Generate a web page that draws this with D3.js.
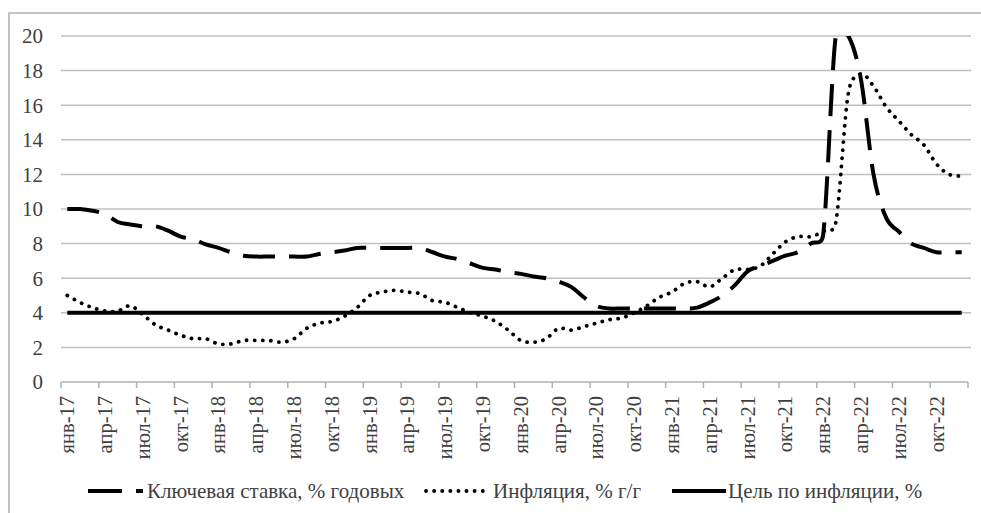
<!DOCTYPE html>
<html>
<head>
<meta charset="utf-8">
<script src="https://cdn.jsdelivr.net/npm/d3@7"></script>
<style>
  body { margin: 0; background: #fff; }
  svg { display: block; }
</style>
</head>
<body>
<div id="chart"></div>
<script>
// Ключевая ставка vs инфляция, помесячно янв-17 .. дек-22

var monthNames = ["янв", "фев", "мар", "апр", "май", "июн", "июл", "авг", "сен", "окт", "ноя", "дек"];
var years = ["17", "18", "19", "20", "21", "22"];

// key rate, % annual (monthly)
var keyRate = [
  10, 10, 9.9, 9.7, 9.25, 9.1, 9, 9, 8.75, 8.4, 8.25, 7.95,
  7.75, 7.5, 7.3, 7.25, 7.25, 7.25, 7.25, 7.25, 7.4, 7.5, 7.6, 7.75,
  7.75, 7.75, 7.75, 7.75, 7.75, 7.5, 7.25, 7.1, 6.85, 6.6, 6.5, 6.35,
  6.25, 6.1, 6, 5.8, 5.5, 4.9, 4.4, 4.25, 4.25, 4.25, 4.25, 4.25,
  4.25, 4.25, 4.3, 4.6, 5, 5.6, 6.4, 6.7, 7, 7.3, 7.5, 8,
  8.5, 20, 20, 17.5, 12, 9.5, 8.7, 8, 7.75, 7.5, 7.5, 7.5
];

// inflation, % y/y
var inflation = [
  5.0, 4.6, 4.3, 4.1, 4.1, 4.4, 3.9, 3.3, 3.0, 2.7, 2.5, 2.5,
  2.2, 2.2, 2.4, 2.4, 2.4, 2.3, 2.5, 3.1, 3.4, 3.5, 3.8, 4.3,
  5.0, 5.2, 5.3, 5.2, 5.1, 4.7, 4.6, 4.3, 4.0, 3.8, 3.5, 3.0,
  2.4, 2.3, 2.5, 3.1, 3.0, 3.2, 3.4, 3.6, 3.7, 4.0, 4.4, 4.9,
  5.2, 5.7, 5.8, 5.5, 6.0, 6.5, 6.5, 6.7, 7.4, 8.1, 8.4, 8.4,
  8.7, 9.2, 16.7, 17.8, 17.1, 15.9, 15.1, 14.3, 13.7, 12.6, 12.0, 11.9
];

var target = 4;

var yTicks = [0, 2, 4, 6, 8, 10, 12, 14, 16, 18, 20];

var seriesNames = ["Ключевая ставка, % годовых", "Инфляция, % г/г", "Цель по инфляции, %"];

// categories
var months = [];
years.forEach(y => monthNames.forEach(m => months.push(m + "-" + y)));

var width = 981;
var height = 513;
var font = "'Liberation Serif', 'Times New Roman', serif";

var margin = {left: 61, right: 13, top: 36, bottom: 131};

// excel-like smoothing: catmull-rom handles, but shortened on short segments
function SmoothCurve(context) { this._context = context; }
SmoothCurve.prototype = {
  areaStart() { this._line = 0; },
  areaEnd() { this._line = NaN; },
  lineStart() { this._pts = []; },
  point(x, y) { this._pts.push([+x, +y]); },
  lineEnd() {
    var p = this._pts, c = this._context, n = p.length;
    if (!n) return;
    c.moveTo(p[0][0], p[0][1]);
    function handle(a, b, seg) {
      var hx = (b[0] - a[0]) / 6, hy = (b[1] - a[1]) / 6;
      var len = Math.hypot(hx, hy), lim = seg * 0.75;
      var k = len > lim && len > 0 ? lim / len : 1;
      return [hx * k, hy * k];
    }
    for (var i = 0; i < n - 1; i++) {
      var p0 = p[i - 1] || p[i], p1 = p[i], p2 = p[i + 1], p3 = p[i + 2] || p[i + 1];
      var seg = Math.hypot(p2[0] - p1[0], p2[1] - p1[1]);
      var h1 = handle(p0, p2, seg), h2 = handle(p1, p3, seg);
      c.bezierCurveTo(p1[0] + h1[0], p1[1] + h1[1], p2[0] - h2[0], p2[1] - h2[1], p2[0], p2[1]);
    }
  }
};
var smooth = ctx => new SmoothCurve(ctx);

var svg = d3.select("#chart")
  .append("svg")
  .attr("width", width)
  .attr("height", height)
  .attr("font-family", font);

// outer frame
svg.append("rect")
  .attr("x", 9)
  .attr("y", 13)
  .attr("width", width)
  .attr("height", height)
  .attr("fill", "none")
  .attr("stroke", "#b0b0b0")
  .attr("stroke-width", 1.5);

var x = d3.scaleBand()
  .domain(months)
  .range([margin.left, width - margin.right])
  .padding(0);

var y = d3.scaleLinear()
  .domain([0, 20])
  .range([height - margin.bottom, margin.top]);

var cx = d => x(d) + x.bandwidth() / 2;

// gridlines
svg.append("g")
  .selectAll("line")
  .data(yTicks.filter(d => d > 0))
  .join("line")
    .attr("x1", margin.left)
    .attr("x2", width - margin.right + 3)
    .attr("y1", d => y(d))
    .attr("y2", d => y(d))
    .attr("stroke", "#c0c0c0")
    .attr("stroke-width", 1.5);

// y labels
svg.append("g")
  .selectAll("text")
  .data(yTicks)
  .join("text")
    .attr("x", 43)
    .attr("y", d => y(d))
    .attr("dy", "0.35em")
    .attr("text-anchor", "end")
    .attr("font-size", 21)
    .attr("fill", "#404040")
    .text(d => d);

// x axis line + ticks every 3 months at category boundaries
var xAxis = svg.append("g");
xAxis.append("line")
  .attr("x1", margin.left)
  .attr("x2", width - margin.right)
  .attr("y1", y(0))
  .attr("y2", y(0))
  .attr("stroke", "#b0b0b0")
  .attr("stroke-width", 1.5);

var tickIdx = d3.range(0, months.length + 1, 3);
xAxis.selectAll("line.tick")
  .data(tickIdx)
  .join("line")
    .attr("class", "tick")
    .attr("x1", i => margin.left + i * x.bandwidth())
    .attr("x2", i => margin.left + i * x.bandwidth())
    .attr("y1", y(0))
    .attr("y2", y(0) + 6)
    .attr("stroke", "#b0b0b0")
    .attr("stroke-width", 1.5);

xAxis.selectAll("text")
  .data(months.filter((d, i) => i % 3 === 0))
  .join("text")
    .attr("transform", d => `translate(${cx(d) + 7},${y(0) + 14}) rotate(-90)`)
    .attr("text-anchor", "end")
    .attr("font-size", 20.5)
    .attr("fill", "#404040")
    .text(d => d);

// clip lines to the plot area
svg.append("clipPath")
  .attr("id", "plot")
  .append("rect")
    .attr("x", margin.left)
    .attr("y", margin.top)
    .attr("width", width - margin.left - margin.right)
    .attr("height", y(0) - margin.top);

var line = d3.line()
  .x((d, i) => cx(months[i]))
  .y(d => y(d))
  .curve(smooth);

var plot = svg.append("g").attr("clip-path", "url(#plot)");

plot.append("line")
  .attr("x1", cx(months[0]))
  .attr("x2", cx(months[months.length - 1]))
  .attr("y1", y(target))
  .attr("y2", y(target))
  .attr("stroke", "#000")
  .attr("stroke-width", 4);

plot.append("path")
  .datum(inflation)
  .attr("fill", "none")
  .attr("stroke", "#000")
  .attr("stroke-width", 3.8)
  .attr("stroke-linecap", "round")
  .attr("stroke-dasharray", "0.1,8")
  .attr("d", line);

plot.append("path")
  .datum(keyRate)
  .attr("fill", "none")
  .attr("stroke", "#000")
  .attr("stroke-width", 4)
  .attr("stroke-dasharray", "32,14")
  .attr("d", line);

// legend
var legendY = 491;
var legend = [
  {name: seriesNames[0], x0: 88, x1: 143, tx: 147, dash: "34,14", cap: "butt", w: 4},
  {name: seriesNames[1], x0: 426, x1: 484, tx: 493, dash: "0.1,8", cap: "round", w: 3.8},
  {name: seriesNames[2], x0: 672, x1: 726, tx: 728, dash: null, cap: "butt", w: 4}
];

var lg = svg.append("g")
  .selectAll("g")
  .data(legend)
  .join("g");

lg.append("line")
  .attr("x1", d => d.x0)
  .attr("x2", d => d.x1)
  .attr("y1", legendY)
  .attr("y2", legendY)
  .attr("stroke", "#000")
  .attr("stroke-width", d => d.w)
  .attr("stroke-linecap", d => d.cap)
  .attr("stroke-dasharray", d => d.dash);

lg.append("text")
  .attr("x", d => d.tx)
  .attr("y", legendY)
  .attr("dy", "0.35em")
  .attr("font-size", 21)
  .attr("fill", "#404040")
  .text(d => d.name);
</script>
</body>
</html>
